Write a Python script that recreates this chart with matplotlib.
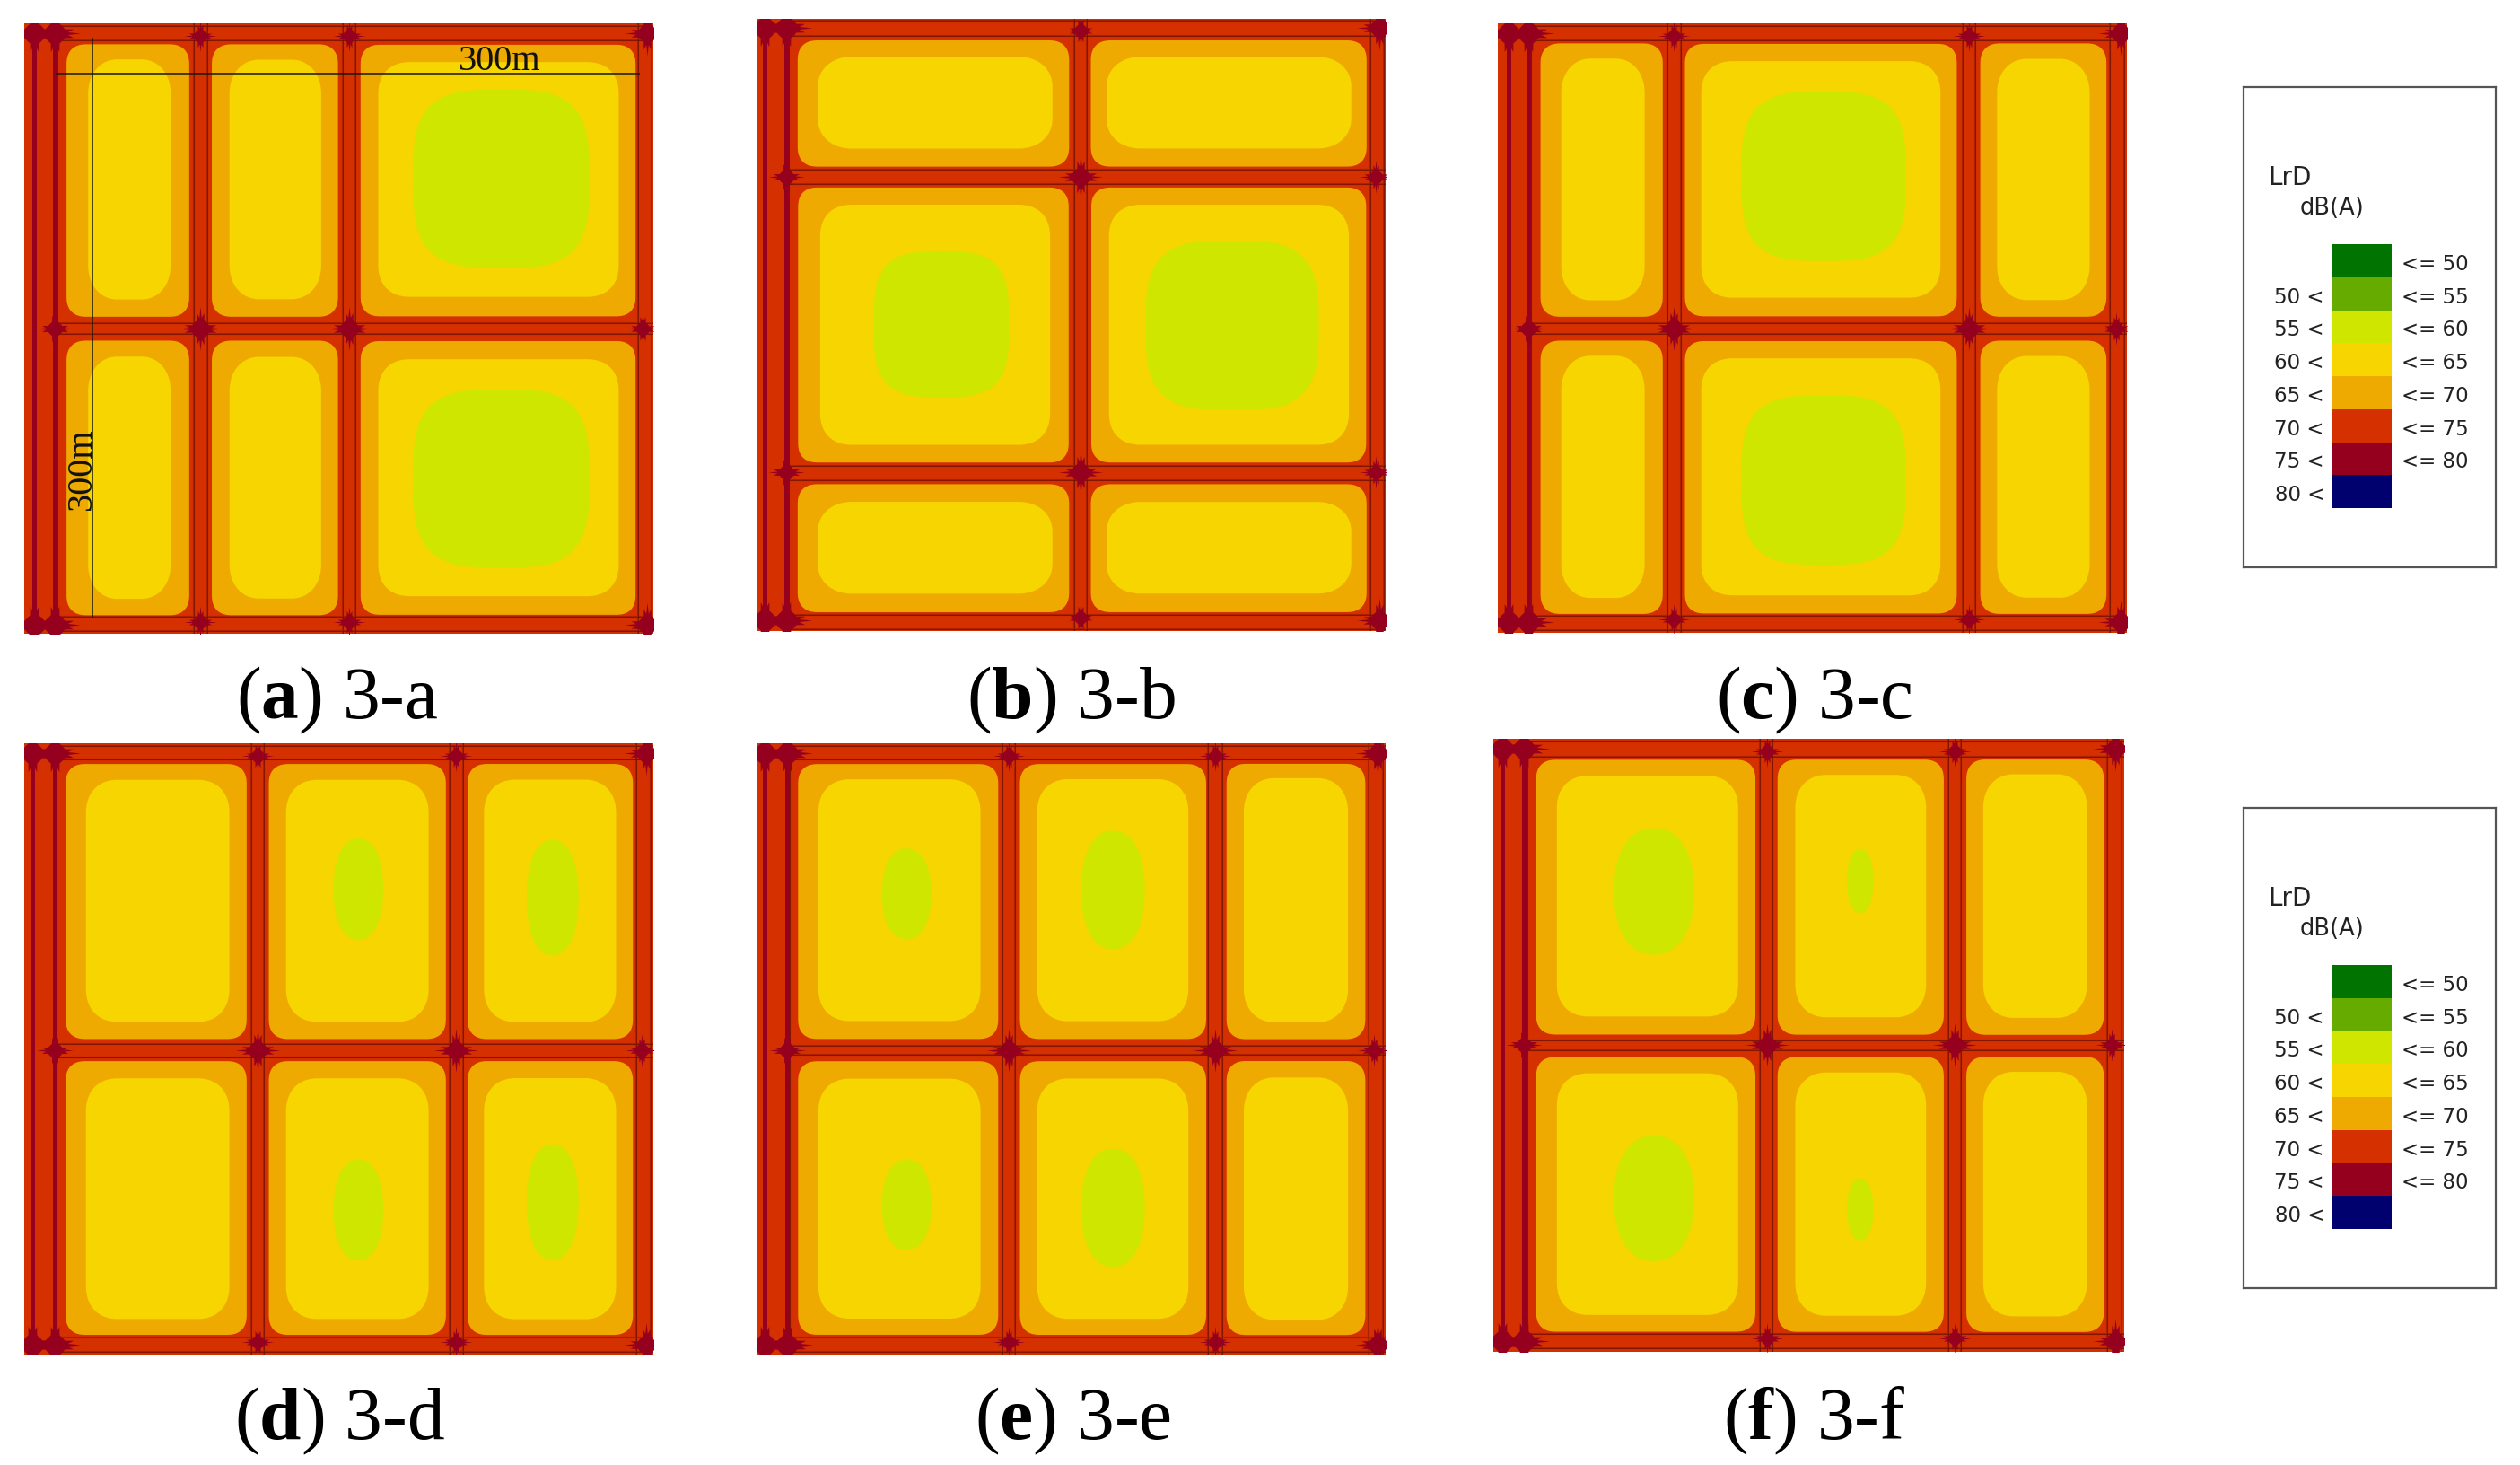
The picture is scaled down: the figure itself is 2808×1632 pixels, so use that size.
import numpy as np
import matplotlib
matplotlib.use('Agg')
import matplotlib.pyplot as plt
from matplotlib.path import Path

plt.rcParams['mathtext.fontset'] = 'custom'
plt.rcParams['mathtext.rm'] = 'Liberation Serif'
plt.rcParams['mathtext.bf'] = 'Liberation Serif:bold'

W, H = 2808, 1633
SCALE = 1568 / 760

RED = '#D43000'
CRIMSON = '#95001F'
ORANGE = '#EEAA00'
YELLOW = '#F6D500'
GREEN = '#CFE600'
BAND = '#A82200'

level_colors = ['#007300', '#66AB00', '#CFE600', '#F6D500', '#EEAA00', '#D43000',
                '#95001F', '#00006E']
level_left = ['', '50 <', '55 <', '60 <', '65 <', '70 <', '75 <', '80 <']
level_right = ['<= 50', '<= 55', '<= 60', '<= 65', '<= 70', '<= 75', '<= 80', '']

# panel a
origin_a = (0, 0)
frame_a = (56, 1502, 56, 1458)
orange_cols_a = [(150, 438), (484, 780), (826, 1464)]
orange_rows_a = [(102, 732), (783, 1418)]
yellow_cols_a = [(195, 400), (520, 746), (862, 1430)]
yellow_rows_a = [(137, 692), (820, 1380)]
green_a = [(950, 208, 1355, 618), (950, 897, 1355, 1307)]
strips_a = [78, 125]
vbands_a = [132, 446, 476, 788, 818, 1466, 1498]
hbands_a = [62, 94, 745, 770, 1420, 1452]
vjoints_a = [460, 802]
hjoints_a = [85, 757, 1432]
right_a = 1478

# panel b
origin_b = (820, 0)
frame_b = (47, 1494, 45, 1452)
orange_cols_b = [(140, 768), (814, 1452)]
orange_rows_b = [(92, 388), (430, 1068), (1112, 1412)]
yellow_cols_b = [(186, 730), (850, 1417)]
yellow_rows_b = [(125, 351), (465, 1032), (1148, 1374)]
green_b = [(317, 580, 628, 915), (942, 555, 1340, 945)]
strips_b = [66, 116]
vbands_b = [122, 778, 806, 1458, 1490]
hbands_b = [50, 85, 392, 424, 1073, 1105, 1415, 1448]
vjoints_b = [792]
hjoints_b = [72, 408, 1088, 1422]
right_b = 1470

# panel c
origin_c = (1640, 0)
frame_c = (60, 1506, 56, 1456)
orange_cols_c = [(155, 442), (487, 1118), (1166, 1462)]
orange_rows_c = [(100, 732), (783, 1415)]
yellow_cols_c = [(198, 405), (520, 1085), (1200, 1428)]
yellow_rows_c = [(135, 694), (818, 1378)]
green_c = [(620, 213, 998, 602), (620, 911, 998, 1300)]
strips_c = [84, 130]
vbands_c = [136, 449, 480, 1128, 1158, 1467, 1500]
hbands_c = [62, 94, 745, 770, 1418, 1450]
vjoints_c = [464, 1142]
hjoints_c = [85, 757, 1426]
right_c = 1482

# panel d
origin_d = (0, 800)
frame_d = (56, 1502, 60, 1465)
orange_cols_d = [(148, 570), (615, 1028), (1072, 1458)]
orange_rows_d = [(105, 742), (788, 1422)]
yellow_cols_d = [(190, 535), (650, 993), (1105, 1424)]
yellow_rows_d = [(139, 705), (825, 1388)]
green_d = [(767, 279, 881, 511), (1211, 282, 1330, 547),
           (767, 1017, 881, 1248), (1211, 982, 1330, 1247)]
strips_d = [75, 125]
vbands_d = [131, 577, 607, 1034, 1064, 1462, 1496]
hbands_d = [66, 98, 750, 782, 1426, 1458]
vjoints_d = [592, 1048]
hjoints_d = [88, 765, 1436]
right_d = 1476

# panel e
origin_e = (820, 800)
frame_e = (47, 1494, 60, 1465)
orange_cols_e = [(140, 606), (650, 1084), (1125, 1450)]
orange_rows_e = [(105, 742), (788, 1422)]
yellow_cols_e = [(182, 570), (685, 1048), (1160, 1415)]
yellow_rows_e = [(137, 704), (825, 1388)]
green_e = [(336, 302, 449, 510), (794, 261, 940, 533),
           (336, 1017, 449, 1224), (794, 992, 940, 1263)]
strips_e = [66, 118]
vbands_e = [124, 612, 642, 1086, 1118, 1455, 1488]
hbands_e = [66, 98, 755, 775, 1426, 1458]
vjoints_e = [628, 1102]
hjoints_e = [88, 765, 1436]
right_e = 1466

# panel f
origin_f = (1640, 800)
frame_f = (50, 1500, 50, 1458)
orange_cols_f = [(145, 655), (700, 1088), (1134, 1456)]
orange_rows_f = [(95, 732), (778, 1415)]
yellow_cols_f = [(188, 620), (736, 1052), (1168, 1422)]
yellow_rows_f = [(128, 694), (812, 1380)]
green_f = [(327, 255, 511, 546), (863, 303, 923, 450),
           (327, 962, 511, 1250), (863, 1060, 923, 1202)]
strips_f = [70, 120]
vbands_f = [128, 662, 692, 1095, 1125, 1460, 1494]
hbands_f = [56, 90, 742, 765, 1418, 1450]
vjoints_f = [678, 1110]
hjoints_f = [78, 753, 1428]
right_f = 1470

captions = ['a', 'b', 'c', 'd', 'e', 'f']
caption_x = [376, 1193, 2022, 378, 1195, 2022]
caption_y = [780, 780, 780, 1583, 1583, 1583]

panels = [
    (origin_a, frame_a, orange_cols_a, orange_rows_a, yellow_cols_a, yellow_rows_a,
     green_a, strips_a, vbands_a, hbands_a, vjoints_a, hjoints_a, right_a),
    (origin_b, frame_b, orange_cols_b, orange_rows_b, yellow_cols_b, yellow_rows_b,
     green_b, strips_b, vbands_b, hbands_b, vjoints_b, hjoints_b, right_b),
    (origin_c, frame_c, orange_cols_c, orange_rows_c, yellow_cols_c, yellow_rows_c,
     green_c, strips_c, vbands_c, hbands_c, vjoints_c, hjoints_c, right_c),
    (origin_d, frame_d, orange_cols_d, orange_rows_d, yellow_cols_d, yellow_rows_d,
     green_d, strips_d, vbands_d, hbands_d, vjoints_d, hjoints_d, right_d),
    (origin_e, frame_e, orange_cols_e, orange_rows_e, yellow_cols_e, yellow_rows_e,
     green_e, strips_e, vbands_e, hbands_e, vjoints_e, hjoints_e, right_e),
    (origin_f, frame_f, orange_cols_f, orange_rows_f, yellow_cols_f, yellow_rows_f,
     green_f, strips_f, vbands_f, hbands_f, vjoints_f, hjoints_f, right_f),
]


def star_marker():
    """Road junction shape, a small diamond with spikes along the roads"""
    ang = np.radians([0, 6, 13, 24, 45, 66, 77, 84])
    rad = [1.0, 0.50, 0.74, 0.42, 0.40, 0.42, 0.74, 0.50]
    a = np.concatenate([ang + k * np.pi / 2 for k in range(4)])
    r = np.tile(rad, 4)
    pts = np.column_stack([r * np.cos(a), r * np.sin(a)])
    return Path(np.vstack([pts, pts[0]]), closed=True)


def rounded_block(box, radius, pull, n=2.5):
    """Outline of a contour area: rounded box with slightly bulging sides"""
    l, t, r, b = box
    cx, cy = (l + r) / 2, (t + b) / 2
    hw, hh = (r - l) / 2, (b - t) / 2
    radius = min(radius, hw, hh)
    u = np.linspace(0, np.pi / 2, 24)
    ax_, ay_ = np.cos(u) ** (2 / n), np.sin(u) ** (2 / n)
    xs, ys = [], []
    for sx, sy, flip in [(1, 1, False), (-1, 1, True), (-1, -1, False), (1, -1, True)]:
        px = ax_[::-1] if flip else ax_
        py = ay_[::-1] if flip else ay_
        xs.append(sx * (hw - radius + radius * px))
        ys.append(sy * (hh - radius + radius * py))
    x, y = np.concatenate(xs), np.concatenate(ys)
    x2 = x * (1 - pull / hw * (y / hh) ** 2)
    y2 = y * (1 - pull / hh * (x / hw) ** 2)
    return cx + x2, cy + y2


def blob(box):
    """Outline of a 55-60 dB area"""
    l, t, r, b = box
    hw, hh = (r - l) / 2, (b - t) / 2
    n = 3.3 if hw / hh > 0.75 else 2.25
    u = np.linspace(0, 2 * np.pi, 200)
    x = np.sign(np.cos(u)) * np.abs(np.cos(u)) ** (2 / n)
    y = np.sign(np.sin(u)) * np.abs(np.sin(u)) ** (2 / n)
    return (l + r) / 2 + hw * x, (t + b) / 2 + hh * y


def draw_panel(fig, panel):
    (origin, frame, o_cols, o_rows, y_cols, y_rows, greens, strips, vbands, hbands,
     vjoints, hjoints, right) = panel
    x0, x1, y0, y1 = frame
    left = origin[0] + x0 / SCALE
    top = origin[1] + y0 / SCALE
    width = (x1 - x0) / SCALE
    height = (y1 - y0) / SCALE
    ax = fig.add_axes([left / W, 1 - (top + height) / H, width / W, height / H])
    ax.set_xlim(x0, x1)
    ax.set_ylim(y1, y0)
    ax.set_xticks([])
    ax.set_yticks([])
    ax.set_facecolor(RED)
    for s in ax.spines.values():
        s.set_visible(False)

    # road edges
    for v in vbands:
        ax.axvline(v, color=BAND, lw=1.5, zorder=1)
        ax.axvline(v, color='#400000', lw=0.5, alpha=0.5, zorder=1.1)
    for h in hbands:
        ax.plot([strips[1], x1], [h, h], color=BAND, lw=1.5, zorder=1)
        ax.plot([strips[1], x1], [h, h], color='#400000', lw=0.5, alpha=0.5, zorder=1.1)
    for v in strips:
        ax.axvline(v, color=CRIMSON, lw=3.6, zorder=1.2)

    # junctions
    star = star_marker()
    mid = hjoints[1:-1]
    xs = [v for v in vjoints for h in mid]
    ys = [h for v in vjoints for h in mid]
    ax.scatter(xs, ys, s=1250, marker=star, color=CRIMSON, lw=0, zorder=2)
    xs = [v for v in vjoints for h in (hjoints[0], hjoints[-1])]
    ys = [h for v in vjoints for h in (hjoints[0], hjoints[-1])]
    ax.scatter(xs, ys, s=650, marker=star, color=CRIMSON, lw=0, zorder=2)
    ax.scatter([strips[1]] * len(mid), mid, s=850, marker=star, color=CRIMSON, lw=0, zorder=2)
    ax.scatter([right] * len(mid), mid, s=700, marker=star, color=CRIMSON, lw=0, zorder=2)
    ends = (hjoints[0] - 6, hjoints[-1] + 6)
    xs = [v for v in strips for h in ends]
    ys = [h for v in strips for h in ends]
    ax.scatter(xs, ys, s=1700, marker=star, color=CRIMSON, lw=0, zorder=2)
    ax.scatter([right + 10] * 2, ends, s=1300, marker=star, color=CRIMSON, lw=0, zorder=2)

    # contour areas, outermost first
    for c in o_cols:
        for r in o_rows:
            x, y = rounded_block((c[0], r[0], c[1], r[1]), 44, 4)
            ax.fill(x, y, color=ORANGE, lw=0, zorder=3)
    for c in y_cols:
        for r in y_rows:
            x, y = rounded_block((c[0], r[0], c[1], r[1]), 66, 13)
            ax.fill(x, y, color=YELLOW, lw=0, zorder=4)
    for box in greens:
        x, y = blob(box)
        ax.fill(x, y, color=GREEN, lw=0, zorder=5)
    return ax


def draw_legend(fig, top):
    """Legend box, top is the pixel row of the upper border"""
    box_h = 535
    ax = fig.add_axes([2500 / W, 1 - (top + box_h) / H, 281 / W, box_h / H])
    ax.set_xlim(2500, 2781)
    ax.set_ylim(top + box_h, top)
    ax.set_xticks([])
    ax.set_yticks([])
    for s in ax.spines.values():
        s.set_color('#555555')
        s.set_linewidth(1.6)
    sw = 36.75
    y_pos = top + 175 + sw * np.arange(len(level_colors))
    ax.bar(2632, sw, width=66, bottom=y_pos, color=level_colors, lw=0)
    for y, a, b in zip(y_pos, level_left, level_right):
        ax.text(2590, y + sw / 2 + 3, a, ha='right', va='center', fontsize=16.5, color='#222222')
        ax.text(2676, y + sw / 2 + 3, b, ha='left', va='center', fontsize=16.5, color='#222222')
    ax.text(2527, top + 100, 'LrD', ha='left', va='center', fontsize=20, color='#222222')
    ax.text(2563, top + 134, 'dB(A)', ha='left', va='center', fontsize=18.5, color='#222222')


fig = plt.figure(figsize=(W / 100, H / 100), dpi=100)

axes = [draw_panel(fig, p) for p in panels]

# dimension lines on the first panel
ax_a = axes[0]
ax_a.plot([130, 1468], [172, 172], color='#1A1A00', lw=1.3, alpha=0.85, zorder=6)
ax_a.plot([212, 212], [90, 1420], color='#1A1A00', lw=1.3, alpha=0.85, zorder=6)
ax_a.text(1148, 142, '300m', family='Liberation Serif', fontsize=29, ha='center',
          va='center', zorder=7, color='#111111')
ax_a.text(189, 1077, '300m', family='Liberation Serif', fontsize=29, ha='center',
          va='center', rotation=90, zorder=7, color='#111111')

for name, cx, cy in zip(captions, caption_x, caption_y):
    fig.text(cx / W, 1 - cy / H, '(' + r'$\mathbf{' + name + '}$' + ') 3-' + name,
             family='Liberation Serif', fontsize=60, ha='center', va='center',
             color='black')

draw_legend(fig, 98)
draw_legend(fig, 901)

fig.savefig('out.png', dpi=100, facecolor='white')
